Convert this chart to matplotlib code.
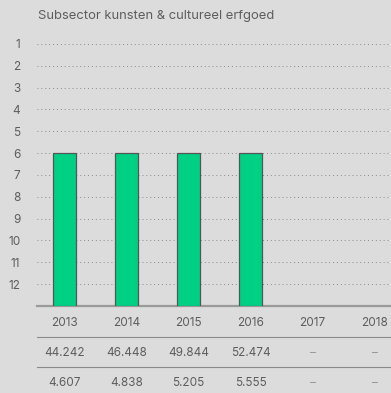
import matplotlib.pyplot as plt
from matplotlib.lines import Line2D
import matplotlib.transforms as mtransforms

plt.rcParams['font.family'] = ['Inter', 'DejaVu Sans']

title = "Subsector kunsten & cultureel erfgoed"
years = ["2013", "2014", "2015", "2016", "2017", "2018"]
bar_tops = [6, 6, 6, 6]
bar_base = 13
y_ticks = list(range(1, 13))
row_1 = ["44.242", "46.448", "49.844", "52.474", "–", "–"]
row_2 = ["4.607", "4.838", "5.205", "5.555", "–", "–"]

bg = "#dcdcdc"
text_col = "#5e5e5e"
fs = 8.5

W, H = 391, 393
fig = plt.figure(figsize=(W / 100, H / 100), dpi=100, facecolor=bg)

# axes placed in pixel terms
left, right, top, bottom = 37, 391, 22, 306
ax = fig.add_axes([left / W, 1 - bottom / H, (right - left) / W, (bottom - top) / H])
ax.set_facecolor(bg)

x0 = -27.5 / 62
ax.set_xlim(x0, x0 + (right - left) / 62)
ax.set_ylim(bar_base, 0)

xs = list(range(len(bar_tops)))
heights = [t - bar_base for t in bar_tops]
ax.bar(xs, heights, bottom=bar_base, width=0.37, color="#00d084",
       edgecolor="#555555", linewidth=0.9, zorder=3)

ax.set_yticks(y_ticks)
ax.set_yticklabels([str(v) for v in y_ticks])
ax.tick_params(axis='y', length=0, pad=12, labelsize=fs, labelcolor=text_col)
ax.set_xticks([])
for v in y_ticks:
    ax.axhline(v, color="#8a8a8a", linestyle=(0, (1, 3)), linewidth=0.7, zorder=1)
for s in ["left", "right", "top"]:
    ax.spines[s].set_visible(False)
ax.spines["bottom"].set_color("#9a9a9a")
ax.spines["bottom"].set_linewidth(1.6)

fig.text(left / W + 0.003, 1 - 16 / H, title, fontsize=9.4, color=text_col, va="center")

# table beneath the bars
trans = mtransforms.blended_transform_factory(ax.transData, fig.transFigure)
for i, yr in enumerate(years):
    ax.text(i, 1 - 323 / H, yr, transform=trans, ha="center", va="center",
            fontsize=fs, color=text_col, clip_on=False)
    ax.text(i, 1 - 353 / H, row_1[i], transform=trans, ha="center", va="center",
            fontsize=fs, color=text_col if row_1[i] != "–" else "#999999", clip_on=False)
    ax.text(i, 1 - 383 / H, row_2[i], transform=trans, ha="center", va="center",
            fontsize=fs, color=text_col if row_2[i] != "–" else "#999999", clip_on=False)

for yl in [337, 367]:
    fig.add_artist(Line2D([left / W, 1], [1 - yl / H] * 2, color="#8a8a8a",
                          linewidth=0.8, transform=fig.transFigure))

fig.savefig("out.png", dpi=100, facecolor=bg)
